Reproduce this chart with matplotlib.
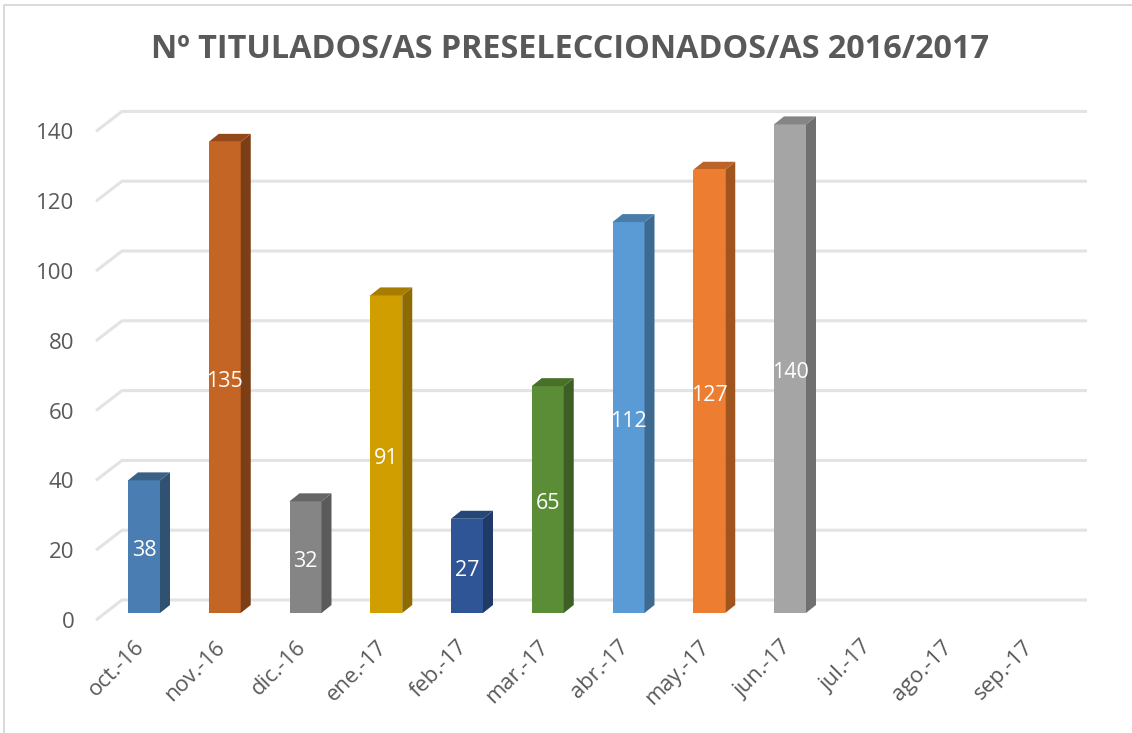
import matplotlib
matplotlib.use("Agg")
import matplotlib.pyplot as plt
from matplotlib.lines import Line2D
from matplotlib.transforms import Affine2D

plt.rcParams['font.family'] = ['Open Sans', 'DejaVu Sans']

months = ['oct.-16', 'nov.-16', 'dic.-16', 'ene.-17', 'feb.-17', 'mar.-17',
          'abr.-17', 'may.-17', 'jun.-17', 'jul.-17', 'ago.-17', 'sep.-17']
values = [38, 135, 32, 91, 27, 65, 112, 127, 140]
front_cols = ['#4A7EB3', '#C46525', '#858585', '#D19E00', '#2F5597', '#5B8D37',
              '#5B9BD5', '#ED7D31', '#A5A5A5']
side_cols = ['#2F5272', '#7C3E17', '#5A5A5A', '#8E6B00', '#1F3A66', '#3D5F25',
             '#3C6A91', '#A0551F', '#707070']
top_cols = ['#3A6287', '#94491B', '#666666', '#A67D00', '#264679', '#497029',
            '#4A7CA8', '#BC6327', '#858585']
y_ticks = [0, 20, 40, 60, 80, 100, 120, 140]

W, H = 1132, 733
px_x = 80.75    # pixels per category
px_y = 3.49     # pixels per unit

fig = plt.figure(figsize=(W / 100, H / 100), dpi=100)
left, right, bottom, top = 96, 1087, 620, 90
ax = fig.add_axes([left / W, 1 - bottom / H, (right - left) / W, (bottom - top) / H])
ax.set_xlim((left - 144) / px_x, (right - 144) / px_x)
ax.set_ylim(0, (bottom - top) / px_y)
for s in ax.spines.values():
    s.set_visible(False)
ax.patch.set_alpha(0)

# depth of the 3d look, in data units
wall_dx = 26 / px_x
wall_dy = 20 / px_y
base = 7 / px_y
dx = 10 / px_x
dy = 8 / px_y
bw = 32 / px_x

# back wall lines and the slanted bit on the left
xmin, xmax = ax.get_xlim()
for t in y_ticks:
    ax.plot([xmin, xmin + wall_dx, xmax], [t, t + wall_dy, t + wall_dy],
            color='#E3E3E3', lw=2.2, zorder=1, solid_capstyle='butt',
            solid_joinstyle='miter', clip_on=False)

for i, v in enumerate(values):
    x0 = i - bw / 2
    x1 = i + bw / 2
    y1 = base + v
    ax.bar(i, v, width=bw, bottom=base, color=front_cols[i], zorder=3)
    ax.fill([x1, x1 + dx, x1 + dx, x1], [base, base + dy, y1 + dy, y1],
            color=side_cols[i], lw=0, zorder=3)
    ax.fill([x0, x0 + dx, x1 + dx, x1], [y1, y1 + dy, y1 + dy, y1],
            color=top_cols[i], lw=0, zorder=3)
    ax.text(i, base + v / 2 - 1.2, str(v), color='white', fontsize=15.5,
            ha='center', va='center', zorder=4)

ax.set_yticks(y_ticks)
ax.set_xticks(range(len(months)))
ax.set_xticklabels(months, rotation=45, ha='right', rotation_mode='anchor')
ax.tick_params(axis='both', length=0, colors='#595959')
ax.tick_params(axis='y', labelsize=16, pad=15.5)
ax.tick_params(axis='x', labelsize=15.8, pad=12)

# x labels sit a bit left of their bars
for lab in ax.get_xticklabels():
    lab.set_transform(lab.get_transform() + Affine2D().translate(-10, 0))

fig.text(570 / W, 1 - 50 / H, 'Nº TITULADOS/AS PRESELECCIONADOS/AS 2016/2017',
         color='#595959', fontsize=23.3, fontweight='bold', ha='center', va='center')

# chart frame
fig.add_artist(Line2D([4 / W, 4 / W, 1], [0, 1 - 5 / H, 1 - 5 / H],
                      color='#D9D9D9', lw=1.4, transform=fig.transFigure))

fig.savefig('out.png', dpi=100)
